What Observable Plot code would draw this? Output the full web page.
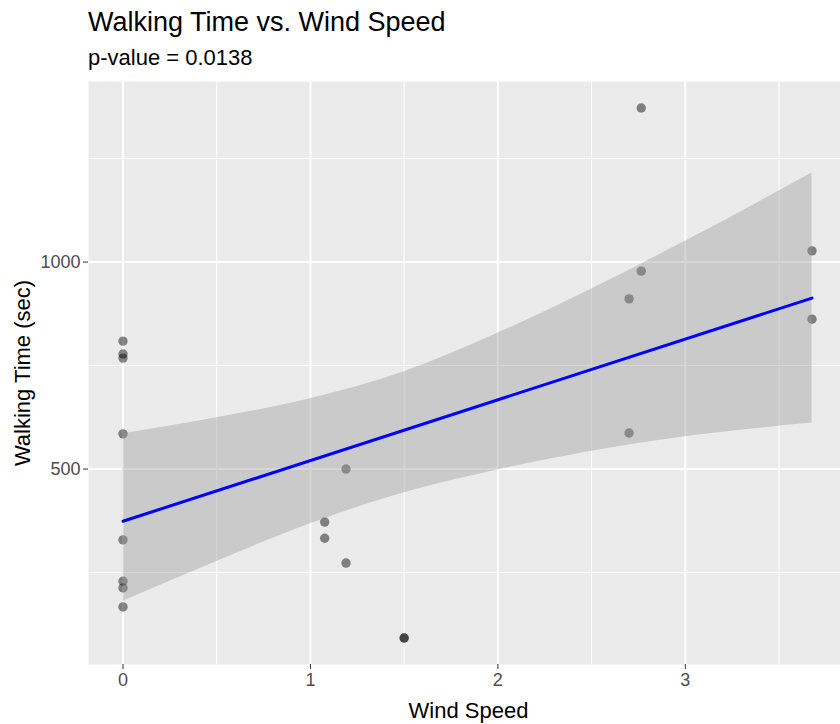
<!DOCTYPE html>
<html><head><meta charset="utf-8">
<script src="https://cdn.jsdelivr.net/npm/d3@7"></script>
<script src="https://cdn.jsdelivr.net/npm/@observablehq/plot@0.6"></script>
<style>
body{margin:0;background:#fff;font-family:Arial,"Liberation Sans",sans-serif;}
#wrap{position:relative;width:840px;height:724px;overflow:hidden;}
#title{position:absolute;left:88px;top:9px;font-size:27px;line-height:27px;color:#000;white-space:nowrap;}
#sub{position:absolute;left:88px;top:47px;font-size:22px;line-height:22px;color:#000;white-space:nowrap;}
#chart{position:absolute;left:0;top:75px;}
</style></head><body>
<div id="wrap">
  <div id="title">Walking Time vs. Wind Speed</div>
  <div id="sub">p-value = 0.0138</div>
  <div id="chart"></div>
</div>
<script>
// Observations
const windSpeed = [0, 0, 0, 0, 0, 0, 0, 0, 1.076, 1.076, 1.19, 1.19, 1.5, 1.5, 2.70, 2.70, 2.765, 2.765, 3.676, 3.676];
const walkTime  = [809, 778, 768, 585, 329, 229, 213, 167, 372, 333, 500, 273, 92, 92, 911, 587, 1372, 978, 1027, 862];

// Fitted line and confidence band
const fitX = [0, 3.676];
const fitY = [374, 913];
const bandX     = [0, 0.5, 1.0, 1.5, 2.0, 2.5, 3.0, 3.676];
const bandLower = [181, 277, 368, 443, 498, 543, 578, 611];
const bandUpper = [585, 624, 670, 735, 828, 935, 1050, 1215];

// Axis ticks
const xTicks = [0, 1, 2, 3];
const xMinor = [0.5, 1.5, 2.5, 3.5];
const yTicks = [500, 1000];
const yMinor = [250, 750, 1250];

const points = windSpeed.map((w, i) => ({wind: w, time: walkTime[i]}));
const fit = fitX.map((x, i) => ({x, y: fitY[i]}));
const band = bandX.map((x, i) => ({x, lo: bandLower[i], hi: bandUpper[i]}));

const font = 'Arial, "Liberation Sans", sans-serif';
const plot = Plot.plot({
  width: 840, height: 649,
  marginTop: 6, marginBottom: 60, marginLeft: 88, marginRight: 0,
  style: {fontFamily: font, background: "transparent", overflow: "visible"},
  x: {domain: [-0.184, 3.828]},
  y: {domain: [28, 1436]},
  marks: [
    Plot.frame({fill: "#EBEBEB", stroke: "none"}),
    Plot.ruleX(xMinor, {stroke: "#fff", strokeWidth: 1}),
    Plot.ruleY(yMinor, {stroke: "#fff", strokeWidth: 1}),
    Plot.ruleX(xTicks, {stroke: "#fff", strokeWidth: 2}),
    Plot.ruleY(yTicks, {stroke: "#fff", strokeWidth: 2}),
    Plot.axisX({ticks: xTicks, tickFormat: d => String(d), tickSize: 5, tickPadding: 4, fontSize: 18, stroke: "#333", fill: "#4D4D4D", label: null}),
    Plot.axisY({ticks: yTicks, tickFormat: d => String(d), tickSize: 5, tickPadding: 3, fontSize: 18, stroke: "#333", fill: "#4D4D4D", label: null}),
    Plot.dot(points, {x: "wind", y: "time", r: 4.7, fill: "#000", fillOpacity: 0.46}),
    Plot.areaY(band, {x: "x", y1: "lo", y2: "hi", fill: "#999", fillOpacity: 0.4, curve: "monotone-x"}),
    Plot.line(fit, {x: "x", y: "y", stroke: "#0000FF", strokeWidth: 3}),
    Plot.text(["Wind Speed"], {frameAnchor: "bottom", dy: 46, dx: 4, lineAnchor: "middle", textAnchor: "middle", fontSize: 22, fill: "#000"}),
    Plot.text(["Walking Time (sec)"], {frameAnchor: "left", dx: -66, rotate: -90, lineAnchor: "middle", textAnchor: "middle", fontSize: 22, fill: "#000"})
  ]
});
document.getElementById("chart").appendChild(plot);
</script>
</body></html>
